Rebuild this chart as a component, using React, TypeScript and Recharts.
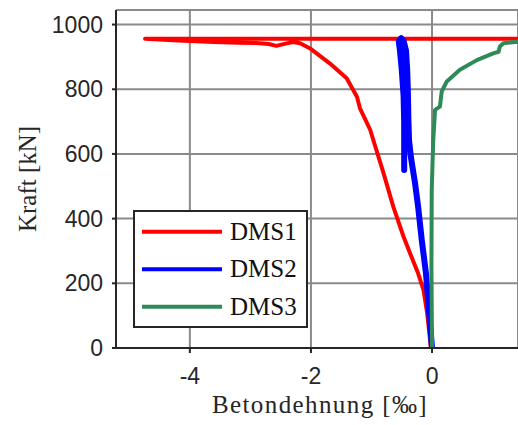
import React from 'react';
import { LineChart, Line, XAxis, YAxis, CartesianGrid, Label } from 'recharts';

const xTicks = [-4, -2, 0];
const yTicks = [0, 200, 400, 600, 800, 1000];
const seriesNames = ['DMS1', 'DMS2', 'DMS3'];
const seriesColors = ['#ff0000', '#0000ff', '#2e8b57'];

const dms1Strain = [0, -0.02, -0.08, -0.14, -0.23, -0.34, -0.47, -0.64, -0.8, -0.97, -1.02, -1.19, -1.24, -1.41, -1.69, -2.02, -2.18, -2.3, -2.42, -2.57, -2.7, -2.9, -3.2, -3.6, -4.2, -4.74, 1.42];
const dms1Force = [0, 4, 107, 179, 231, 282, 344, 437, 540, 643, 674, 741, 777, 834, 880, 927, 942, 946, 941, 934, 940, 943, 944, 946, 951, 956, 956];

const dms2Strain = [0, -0.1, -0.17, -0.23, -0.28, -0.35, -0.38, -0.39, -0.4, -0.41, -0.43, -0.47, -0.51, -0.55, -0.53, -0.5, -0.47, -0.46, -0.46, -0.46];
const dms2Force = [0, 231, 334, 437, 509, 591, 643, 705, 800, 860, 920, 950, 958, 948, 920, 860, 780, 700, 643, 550];

const dms3Strain = [0, -0.01, -0.005, 0.02, 0.05, 0.13, 0.16, 0.24, 0.46, 0.74, 1.01, 1.1, 1.12, 1.18, 1.42];
const dms3Force = [0, 250, 489, 643, 736, 746, 793, 823, 860, 890, 911, 916, 932, 942, 947];

const toPoints = (xs: number[], ys: number[]) => xs.map((x, i) => ({ x, y: ys[i] }));
const seriesData = [
  toPoints(dms1Strain, dms1Force),
  toPoints(dms2Strain, dms2Force),
  toPoints(dms3Strain, dms3Force),
];

const serif = '"Liberation Serif", serif';
const sans = '"Liberation Sans", Arial, sans-serif';
const dark = '#262626';

const LegendBox = () => (
  <svg width={175} height={118} style={{ display: 'block', position: 'absolute', left: 133, top: 210 }}>
    <rect x={1} y={1} width={173} height={116} fill="#fff" stroke={dark} strokeWidth={2} />
    {seriesNames.map((name, i) => (
      <g key={name}>
        <line x1={9} x2={89} y1={21.7 + i * 37.5} y2={21.7 + i * 37.5} stroke={seriesColors[i]} strokeWidth={4} />
        <text x={97} y={29.5 + i * 37.5} fontFamily={serif} fontSize={25} fill="#111">{name}</text>
      </g>
    ))}
  </svg>
);

export default function App() {
  return (
    <div style={{ position: 'absolute', left: 0, top: 0, width: 518, height: 425, background: '#fff' }}>
      <LineChart width={518} height={425} margin={{ top: 10, right: 0, left: 0, bottom: 0 }}>
        <CartesianGrid stroke="#8a8a8a" strokeWidth={2} />
        <XAxis
          type="number"
          dataKey="x"
          domain={[-5.22, 1.42]}
          allowDataOverflow
          ticks={xTicks}
          height={77}
          tickSize={5}
          tickMargin={15}
          axisLine={{ stroke: dark, strokeWidth: 2 }}
          tickLine={{ stroke: dark, strokeWidth: 2 }}
          tick={{ fill: dark, fontSize: 23, fontFamily: sans }}
        >
          <Label
            content={() => (
              <text x={320} y={413} textAnchor="middle" fontFamily={serif} fontSize={25} letterSpacing={1.4} fill={dark}>
                Betondehnung [‰]
              </text>
            )}
          />
        </XAxis>
        <YAxis
          type="number"
          dataKey="y"
          domain={[0, 1045]}
          allowDataOverflow
          ticks={yTicks}
          width={116}
          tickSize={4}
          tickMargin={9}
          axisLine={{ stroke: dark, strokeWidth: 2 }}
          tickLine={{ stroke: dark, strokeWidth: 2 }}
          tick={{ fill: dark, fontSize: 23, fontFamily: sans }}
        >
          <Label
            content={() => (
              <text x={27} y={179} transform="rotate(-90 27 179)" textAnchor="middle" dominantBaseline="central" fontFamily={serif} fontSize={25} fill={dark}>
                Kraft [kN]
              </text>
            )}
          />
        </YAxis>
        {seriesData.map((d, i) => (
          <Line
            key={seriesNames[i]}
            data={d}
            dataKey="y"
            name={seriesNames[i]}
            stroke={seriesColors[i]}
            strokeWidth={i === 1 ? 6 : 4}
            strokeLinejoin="round"
            strokeLinecap="round"
            dot={false}
            activeDot={false}
            isAnimationActive={false}
            type="linear"
          />
        ))}
      </LineChart>
      <LegendBox />
    </div>
  );
}
